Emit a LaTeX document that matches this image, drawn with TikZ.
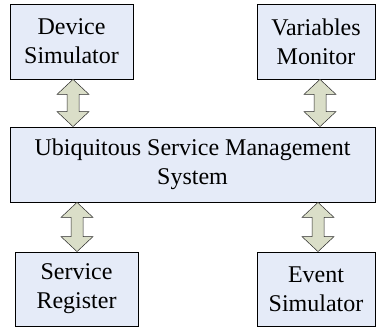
\documentclass[tikz,border=0pt]{standalone}
\usepackage{fontspec}
\setmainfont{Liberation Serif}
\usetikzlibrary{calc,shadows}

\definecolor{boxfill}{RGB}{229,235,248}
\definecolor{arrowfill}{RGB}{218,222,200}
\definecolor{arrowline}{RGB}{40,40,40}

\tikzset{
  module/.style={draw=black, line width=0.8pt, fill=boxfill,
    drop shadow={shadow xshift=0.8pt, shadow yshift=-1pt, opacity=0.6, fill=gray},
    align=center, inner sep=0pt, anchor=center,
    font=\fontsize{24}{29}\selectfont},
  link/.style={draw=arrowline, line width=0.5pt, fill=arrowfill, line join=miter}
}

% two-headed block arrow between two points (upper tip, lower tip)
\newcommand{\blockarrow}[2]{%
  \path[link] let \p1=#1, \p2=#2 in
    (\x1,\y1) -- (\x1+16pt,\y1-15pt) -- (\x1+6pt,\y1-15pt)
    -- (\x2+6pt,\y2+15pt) -- (\x2+16pt,\y2+15pt) -- (\x2,\y2)
    -- (\x2-16pt,\y2+15pt) -- (\x2-6pt,\y2+15pt)
    -- (\x1-6pt,\y1-15pt) -- (\x1-16pt,\y1-15pt) -- cycle;
}

\begin{document}
\begin{tikzpicture}[x=1pt,y=1pt]
\useasboundingbox (0,0) rectangle (376,-328);

\node[module, minimum width=123, minimum height=75] (dev) at (71.5,-41.5) {Device\\Simulator};
\node[module, minimum width=118, minimum height=75] (var) at (316,-41.5) {Variables\\Monitor};
\node[module, minimum width=365, minimum height=75] (usm) at (192.5,-164.5) {Ubiquitous Service Management\\System};
\node[module, minimum width=123, minimum height=74] (reg) at (76.5,-289) {Service\\Register};
\node[module, minimum width=118, minimum height=74] (evt) at (316,-289) {Event\\Simulator};

% connectors between the modules and the management system
\coordinate (a1) at ($(dev.south)+(1.5,0)$);
\coordinate (b1) at (a1 |- usm.north);
\coordinate (a2) at ($(var.south)+(4,0)$);
\coordinate (b2) at (a2 |- usm.north);
\coordinate (a3) at ($(reg.north)+(0.5,0)$);
\coordinate (b3) at (a3 |- usm.south);
\coordinate (a4) at ($(evt.north)+(2,0)$);
\coordinate (b4) at (a4 |- usm.south);

\blockarrow{(a1)}{(b1)}
\blockarrow{(a2)}{(b2)}
\blockarrow{(b3)}{(a3)}
\blockarrow{(b4)}{(a4)}
\end{tikzpicture}
\end{document}
